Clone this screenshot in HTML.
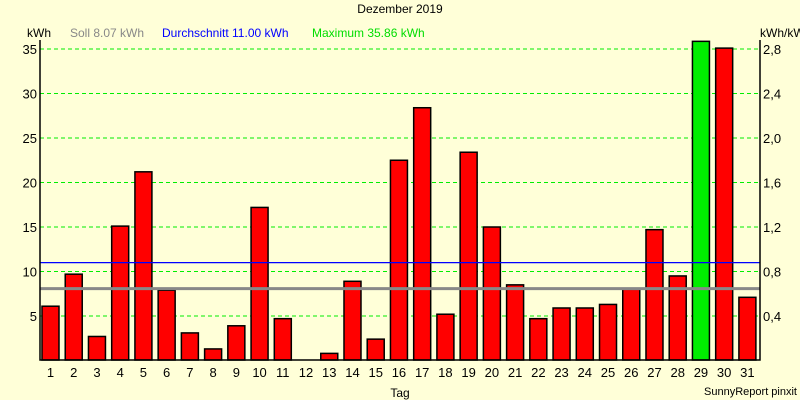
<!DOCTYPE html>
<html><head><meta charset="utf-8"><style>
body{margin:0;background:#ffffd8;}
svg{display:block;font-family:"Liberation Sans",sans-serif;}
</style></head><body>
<svg id="chart" width="800" height="400">
<rect width="800" height="400" fill="#ffffd8"/>
<text x="400" y="13" text-anchor="middle" font-size="12" fill="#000">Dezember 2019</text>
<text x="27" y="37" font-size="12" fill="#000">kWh</text>
<text x="70" y="37" font-size="12" fill="#888">Soll 8.07 kWh</text>
<text x="162" y="37" font-size="12" fill="#0000ff">Durchschnitt 11.00 kWh</text>
<text x="312" y="37" font-size="12" fill="#00dd00">Maximum 35.86 kWh</text>
<text x="760" y="37" font-size="12" fill="#000">kWh/kWp</text>
<g id="grid"></g><g id="bars"></g><g id="lines"></g><g id="axes"></g>
<text x="400" y="397" text-anchor="middle" font-size="12">Tag</text>
<text x="797" y="395" text-anchor="end" font-size="11">SunnyReport pinxit</text>
</svg>
<script>
const days=[1,2,3,4,5,6,7,8,9,10,11,12,13,14,15,16,17,18,19,20,21,22,23,24,25,26,27,28,29,30,31];
const values=[6.1,9.7,2.7,15.1,21.2,7.9,3.1,1.3,3.9,17.2,4.7,0,0.8,8.9,2.4,22.5,28.4,5.2,23.4,15.0,8.5,4.7,5.9,5.9,6.3,8.0,14.7,9.5,35.86,35.1,7.1];
const yTicks=[5,10,15,20,25,30,35];
const y2Ticks=["0,4","0,8","1,2","1,6","2,0","2,4","2,8"];
const soll=8.07, avg=11.00, maxVal=35.86;
const NS="http://www.w3.org/2000/svg";
const L=40,R=760,T=40,B=360.5;
const y=v=>B-v*8.9;
const x=d=>50.5+(d-1)*23.23;
function mk(tag,attrs,parent){const e=document.createElementNS(NS,tag);for(const k in attrs)e.setAttribute(k,attrs[k]);document.getElementById(parent).appendChild(e);return e;}
yTicks.forEach((t,i)=>{
 const g=mk('line',{x1:L,x2:R,y1:y(t),y2:y(t),stroke:'#00ee00','stroke-dasharray':'4,3'},'grid');
 
 
 const a=mk('text',{x:L-3,y:y(t)+5,'text-anchor':'end','font-size':'13'},'axes');a.textContent=t;
 
 
 const b=mk('text',{x:R+3,y:y(t)+5,'font-size':'13'},'axes');b.textContent=y2Ticks[i];
 
 
});
days.forEach((d,i)=>{
 const v=values[i];
 if(v>0){const r=mk('rect',{x:x(d)-8.5,y:y(v),width:17,height:B-0.5-y(v),fill:v===maxVal?'#00ee00':'#ff0000',stroke:'#000','stroke-width':1.5},'bars');
 
 }
 const t=mk('text',{x:x(d),y:377,'text-anchor':'middle','font-size':'13'},'axes');t.textContent=d;
 
 
});
const al=mk('line',{x1:L,x2:R,y1:y(avg),y2:y(avg),stroke:'#0000ff','stroke-width':1.2},'lines');


const sl=mk('line',{x1:L,x2:R,y1:y(soll),y2:y(soll),stroke:'#888','stroke-width':3},'lines');


const fr=mk('polyline',{points:`${L},${T} ${L},${B-0.5} ${R},${B-0.5} ${R},${T}`,fill:'none',stroke:'#000','stroke-width':1.5},'axes');


</script>
</body></html>
